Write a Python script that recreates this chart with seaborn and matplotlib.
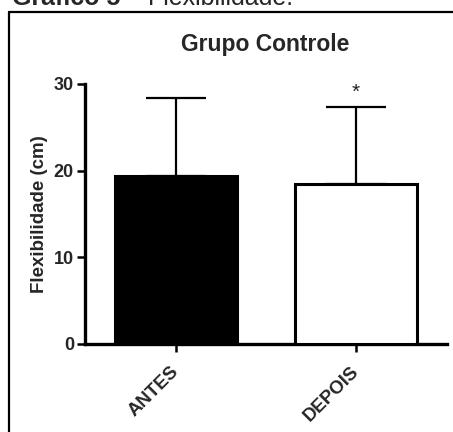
import matplotlib
matplotlib.use("Agg")
import matplotlib.pyplot as plt
import seaborn as sns
import pandas as pd
from matplotlib.lines import Line2D

categories = ["ANTES", "DEPOIS"]
means = [19.4, 18.5]
sd_upper = [9.0, 8.8]
bar_colors = ["black", "white"]
yticks = [0, 10, 20, 30]

sns.set_style("white")
plt.rcParams["font.family"] = ["Liberation Sans", "DejaVu Sans"]

W, H = 453, 432
fig = plt.figure(figsize=(W / 100, H / 100), dpi=100)
fig.patch.set_facecolor("white")

ax = fig.add_axes([85 / W, 1 - 344 / H, 362 / W, 260 / H])

df = pd.DataFrame({"grupo": categories, "valor": means})
sns.barplot(data=df, x="grupo", y="valor", hue="grupo", palette=bar_colors,
            edgecolor="black", linewidth=2.2, width=0.68, legend=False,
            errorbar=None, ax=ax, zorder=3)

ax.errorbar(x=[0, 1], y=means, yerr=[[0, 0], sd_upper], fmt="none",
            ecolor="black", elinewidth=1.6, capsize=21.6, capthick=1.6, zorder=2)

ax.text(1, 29.0, "*", ha="center", va="center", fontsize=15, color="#222222")

ax.set_xlim(-0.505, 1.505)
ax.set_ylim(0, 30)
ax.set_yticks(yticks)
ax.set_yticklabels([str(t) for t in yticks], fontsize=13, fontweight="bold")
ax.set_xticks([0, 1])
ax.set_xticklabels(categories, rotation=45, ha="right", va="center",
                   rotation_mode="anchor", fontsize=13.4, fontweight="bold")
ax.set_xlabel("")
ax.set_ylabel("Flexibilidade (cm)", fontsize=13.5, fontweight="bold", labelpad=4)

for s in ["top", "right"]:
    ax.spines[s].set_visible(False)
for s in ["left", "bottom"]:
    ax.spines[s].set_linewidth(2.4)
    ax.spines[s].set_color("black")
ax.tick_params(axis="both", which="major", direction="out", length=6, width=1.8,
               color="black", left=True, bottom=True, pad=2)
ax.tick_params(axis="x", pad=12)
ax.patch.set_alpha(0)

fig.text(265 / W, 1 - 51 / H, "Grupo Controle", ha="center", va="baseline",
         fontsize=16.5, fontweight="bold")

# caption (partly cut by the top edge, as in the reference)
t1 = fig.text(12 / W, 1 - 5 / H, "Gráfico 5", ha="left", va="baseline",
              fontsize=18, fontweight="bold")
fig.canvas.draw()
bb = t1.get_window_extent(renderer=fig.canvas.get_renderer())
fig.text(bb.x1 / W, 1 - 5 / H, " \u2013 Flexibilidade.", ha="left", va="baseline",
         fontsize=18)

# frame around the chart (left and top edges visible)
fig.add_artist(Line2D([9 / W, 9 / W], [0, 1 - 12 / H], transform=fig.transFigure,
                      color="black", linewidth=1.6))
fig.add_artist(Line2D([9 / W, 1], [1 - 12 / H, 1 - 12 / H], transform=fig.transFigure,
                      color="black", linewidth=1.6))

fig.savefig("out.png", dpi=100, facecolor="white")
